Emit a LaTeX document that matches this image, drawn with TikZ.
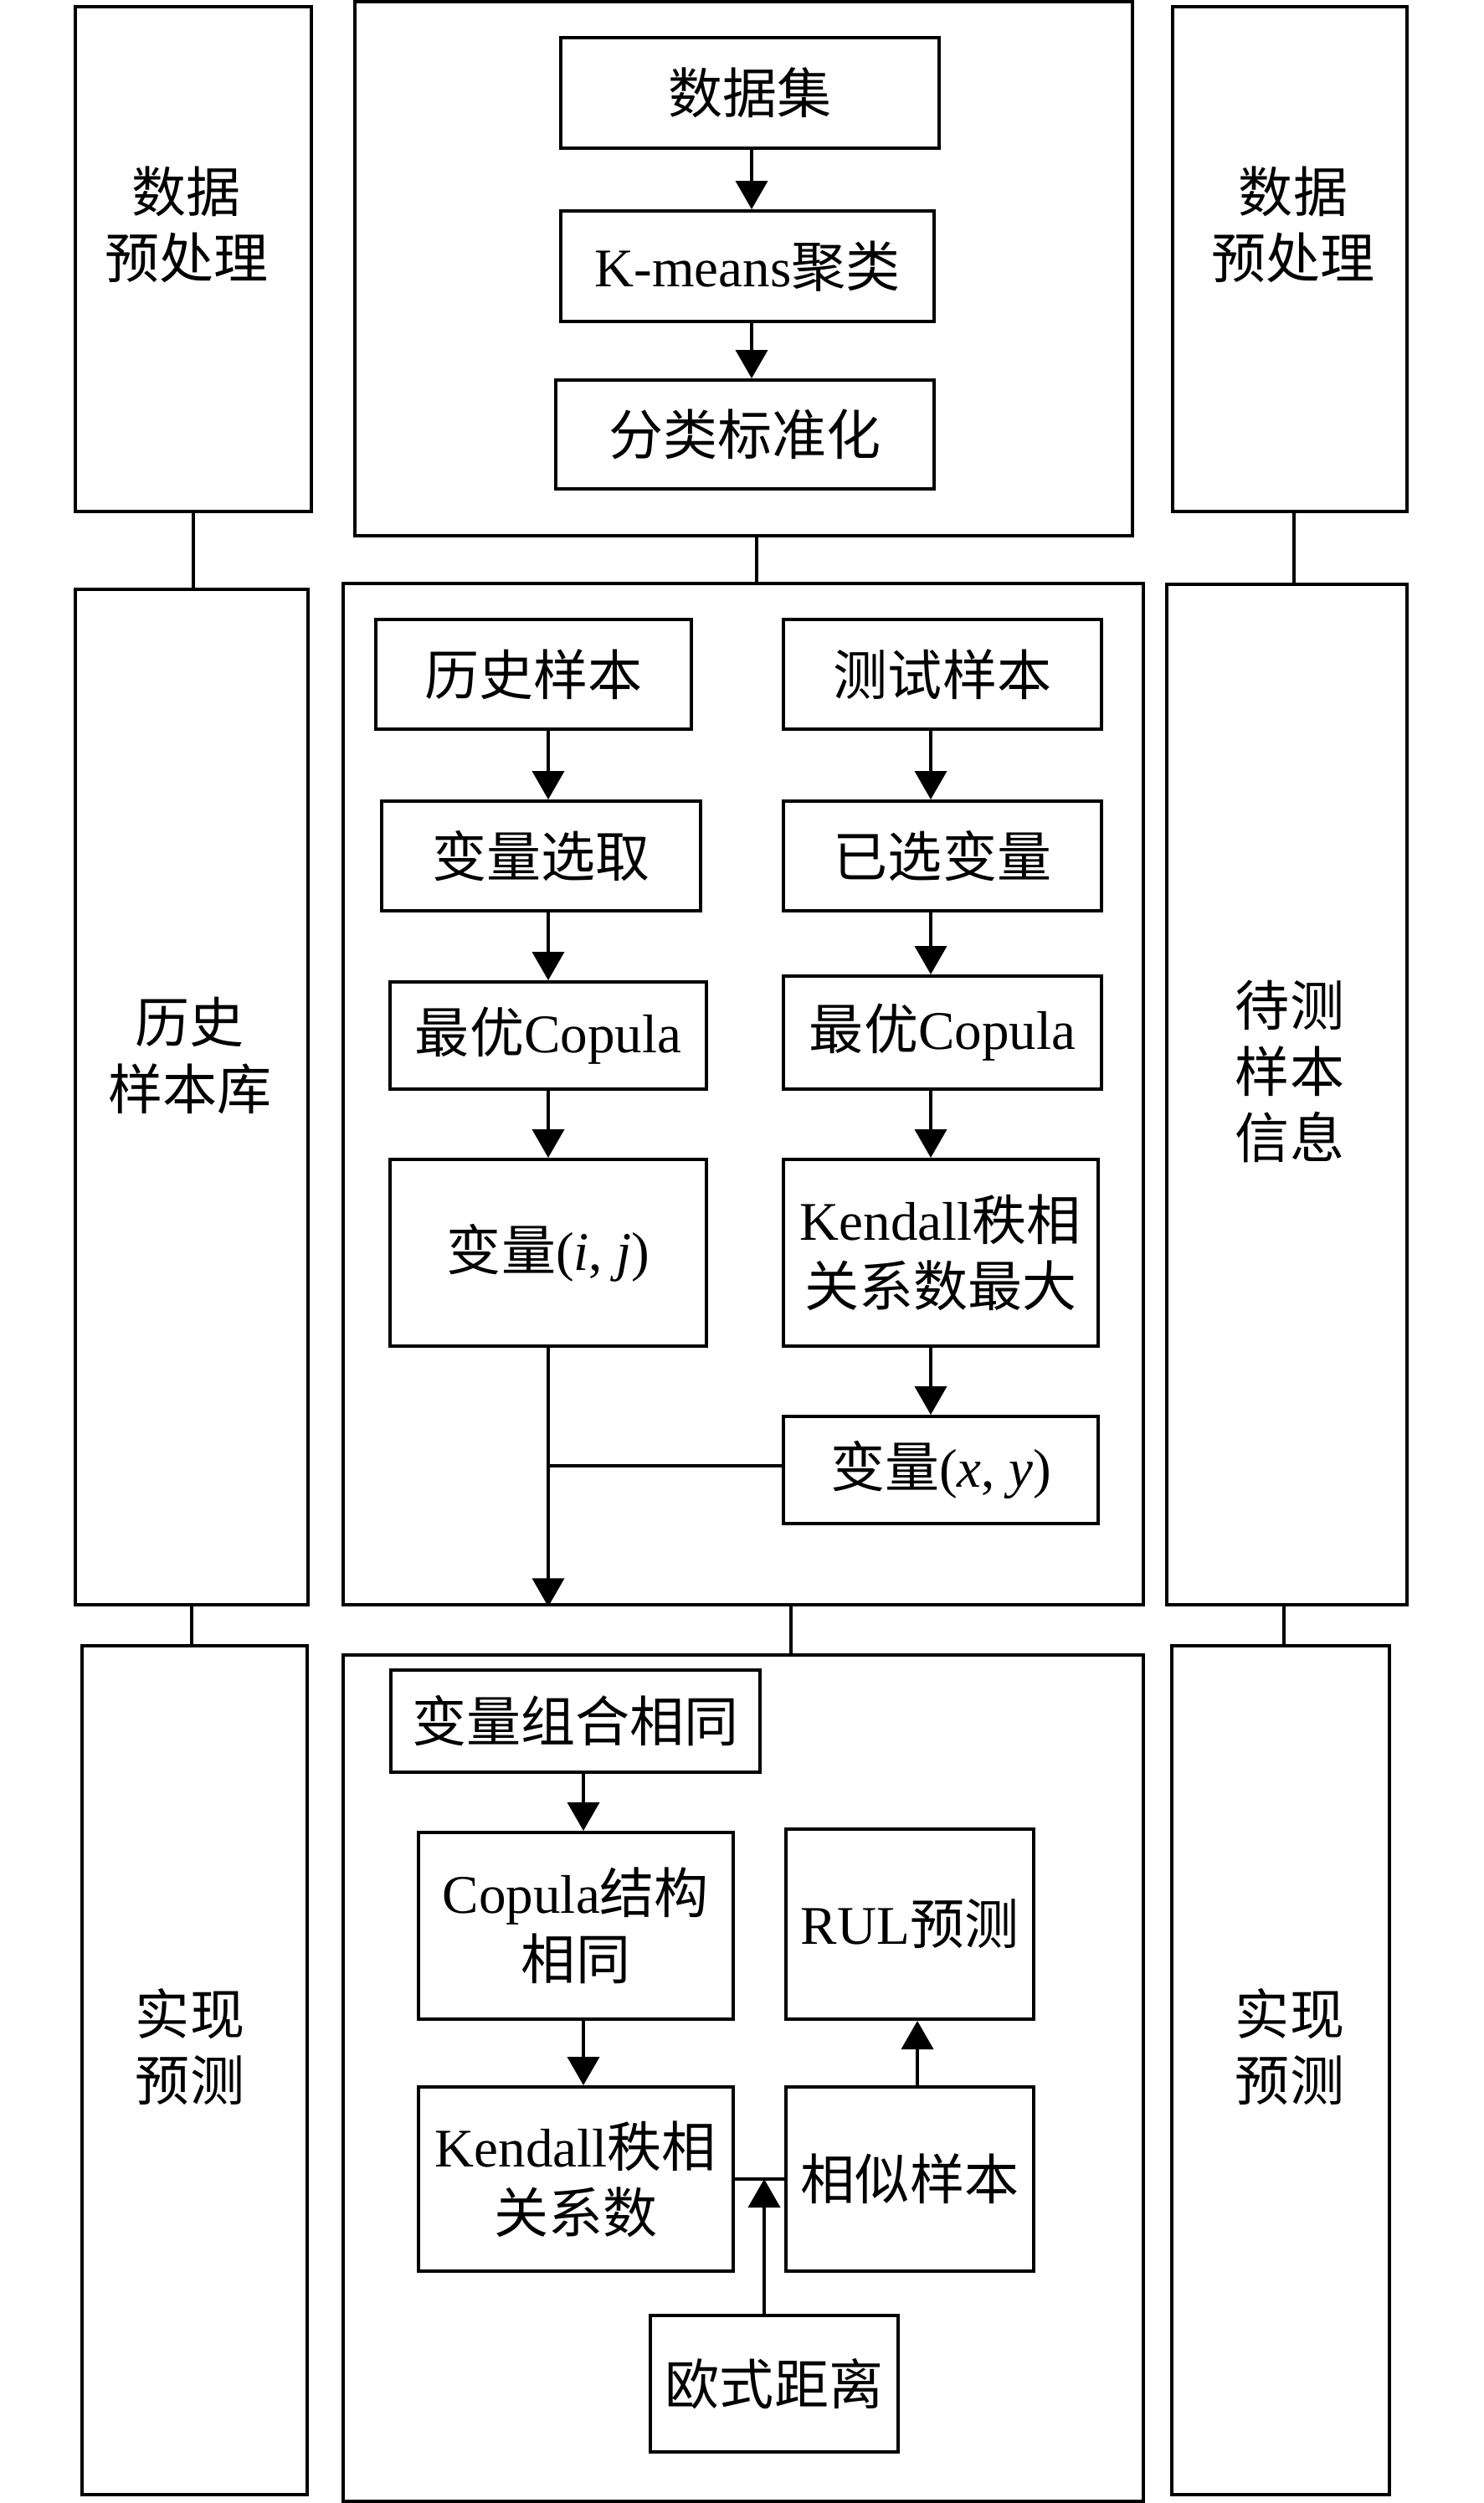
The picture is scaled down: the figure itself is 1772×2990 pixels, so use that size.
\documentclass[tikz,border=0pt]{standalone}
\usepackage{fontspec}
\setmainfont{Liberation Serif}
\newfontfamily\cjk{Noto Sans CJK SC}
\usetikzlibrary{arrows.meta,calc}
\newcommand\zh[1]{{\cjk #1}}
\begin{document}
\begin{tikzpicture}[x=0.01cm,y=-0.01cm,
  box/.style={draw,line width=1.1pt,inner sep=0pt,align=center,font=\fontsize{18.5}{22.5}\selectfont},
  lbl/.style={inner sep=0pt,align=center,font=\fontsize{18.5}{22.5}\selectfont},
  arr/.style={line width=1.1pt,-{Triangle[width=0.38cm,length=0.34cm]}},
  ln/.style={line width=1.1pt}]
\useasboundingbox[fill=white] (0,0) rectangle (1772,2990);

% side columns
\node[box,minimum width=2.82cm,minimum height=6.03cm] (preL) at (231,309.5) {};
\node[lbl] (preLt) at (223,268) {\zh{数据}\\\zh{预处理}};
\node[box,minimum width=2.78cm,minimum height=12.13cm] (hist) at (229,1310.5) {};
\node[lbl] (histt) at (227,1261) {\zh{历史}\\\zh{样本库}};
\node[box,minimum width=2.69cm,minimum height=10.14cm] (realL) at (232.5,2473) {};
\node[lbl] (realLt) at (227,2445) {\zh{实现}\\\zh{预测}};

\node[box,minimum width=2.80cm,minimum height=6.03cm] (preR) at (1541,309.5) {};
\node[lbl] (preRt) at (1545,268) {\zh{数据}\\\zh{预处理}};
\node[box,minimum width=2.87cm,minimum height=12.19cm] (dc) at (1537.5,1307.5) {};
\node[lbl] (dct) at (1541,1280) {\zh{待测}\\\zh{样本}\\\zh{信息}};
\node[box,minimum width=2.60cm,minimum height=10.14cm] (realR) at (1530,2473) {};
\node[lbl] (realRt) at (1541,2445) {\zh{实现}\\\zh{预测}};

% top group
\node[box,minimum width=9.29cm,minimum height=6.38cm] (topbox) at (888.5,321) {};
\node[box,minimum width=4.52cm,minimum height=1.32cm] (ds) at (896,111) {\zh{数据集}};
\node[box,minimum width=4.46cm,minimum height=1.32cm] (km) at (893,318) {K-means\zh{聚类}};
\node[box,minimum width=4.52cm,minimum height=1.30cm] (fl) at (890,519) {\zh{分类标准化}};

% middle group
\node[box,minimum width=9.56cm,minimum height=12.20cm] (midbox) at (888,1307) {};
\node[box,minimum width=3.77cm,minimum height=1.31cm] (hs) at (637.5,805.5) {\zh{历史样本}};
\node[box,minimum width=3.81cm,minimum height=1.31cm] (vs) at (646.5,1022.5) {\zh{变量选取}};
\node[box,minimum width=3.78cm,minimum height=1.28cm] (cl) at (655,1237) {\zh{最优}Copula};
\node[box,minimum width=3.78cm,minimum height=2.23cm] (vij) at (655,1496.5) {\zh{变量}(\textit{i}, \textit{j})};
\node[box,minimum width=3.80cm,minimum height=1.31cm] (ts) at (1126,805.5) {\zh{测试样本}};
\node[box,minimum width=3.80cm,minimum height=1.31cm] (yx) at (1126,1022.5) {\zh{已选变量}};
\node[box,minimum width=3.80cm,minimum height=1.35cm] (cr) at (1126,1233.5) {\zh{最优}Copula};
\node[box,minimum width=3.76cm,minimum height=2.23cm] (kd) at (1124,1496.5) {Kendall\zh{秩相}\\\zh{关系数最大}};
\node[box,minimum width=3.76cm,minimum height=1.28cm] (vxy) at (1124,1756) {\zh{变量}(\textit{x}, \textit{y})};

% bottom group
\node[box,minimum width=9.56cm,minimum height=10.11cm] (botbox) at (888,2482.5) {};
\node[box,minimum width=4.41cm,minimum height=1.22cm] (vzh) at (687.5,2056) {\zh{变量组合相同}};
\node[box,minimum width=3.76cm,minimum height=2.23cm] (cs) at (688,2300.5) {Copula\zh{结构}\\\zh{相同}};
\node[box,minimum width=3.76cm,minimum height=2.20cm] (kc) at (688,2603) {Kendall\zh{秩相}\\\zh{关系数}};
\node[box,minimum width=2.96cm,minimum height=2.27cm] (rul) at (1087,2298.5) {RUL\zh{预测}};
\node[box,minimum width=2.96cm,minimum height=2.20cm] (xs) at (1087,2603) {\zh{相似样本}};
\node[box,minimum width=2.96cm,minimum height=1.63cm] (oj) at (925,2847.5) {\zh{欧式距离}};

\coordinate (xr) at (1112,0);

% side connectors
\draw[ln] (preL.south) -- (preL.south |- hist.north);
\draw[ln] (hist.south) -- (hist.south |- realL.north);
\draw[ln] ([xshift=0.05cm]preR.south) -- ([xshift=0.05cm]preR.south |- dc.north);
\draw[ln] ([xshift=-0.035cm]dc.south) -- ([xshift=-0.035cm]dc.south |- realR.north);

% group connectors
\draw[ln] ([xshift=0.155cm]topbox.south) -- ([xshift=0.155cm]topbox.south |- midbox.north);
\draw[ln] ([xshift=0.57cm]midbox.south) -- ([xshift=0.57cm]midbox.south |- botbox.north);

% top arrows
\draw[arr] ([xshift=0.02cm]ds.south) -- ([xshift=0.02cm]ds.south |- km.north);
\draw[arr] ([xshift=0.05cm]km.south) -- ([xshift=0.05cm]km.south |- fl.north);

% middle arrows
\draw[arr] (hs.south -| vij.north) -- (vs.north -| vij.north);
\draw[arr] (vs.south -| vij.north) -- (cl.north -| vij.north);
\draw[arr] (cl.south) -- (vij.north);
\draw[arr] (ts.south -| xr) -- (yx.north -| xr);
\draw[arr] (yx.south -| xr) -- (cr.north -| xr);
\draw[arr] (cr.south -| xr) -- (kd.north -| xr);
\draw[arr] (kd.south -| xr) -- (vxy.north -| xr);
\draw[ln] ([yshift=0.05cm]vxy.west) -- ([yshift=0.05cm]vxy.west -| vij.south);
\draw[arr] (vij.south) -- (vij.south |- midbox.south);

% bottom arrows
\draw[arr] ([xshift=0.09cm]vzh.south -| cs.south) -- ([xshift=0.09cm]cs.north);
\draw[arr] ([xshift=0.09cm]cs.south) -- ([xshift=0.09cm]kc.north);
\draw[ln] (kc.east) -- (xs.west);
\draw[arr] ([xshift=-0.12cm]oj.north) -- ([xshift=-0.12cm]oj.north |- kc.east);
\draw[arr] ([xshift=0.09cm]xs.north) -- ([xshift=0.09cm]xs.north |- rul.south);
\end{tikzpicture}
\end{document}
